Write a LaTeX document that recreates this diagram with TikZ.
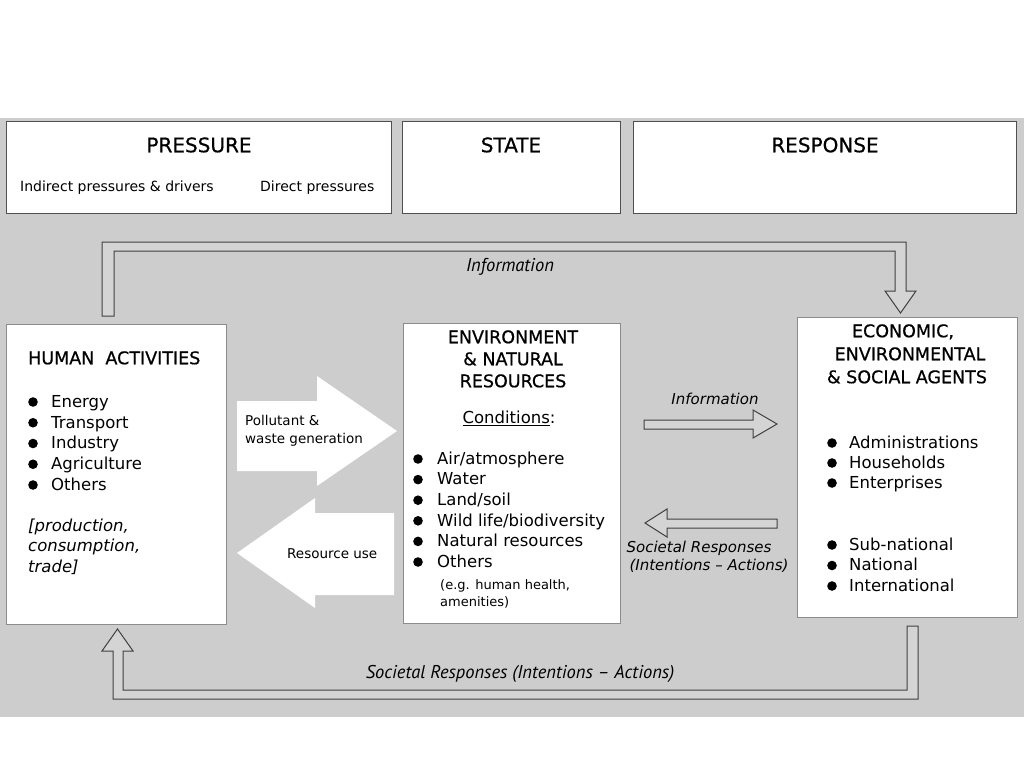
\documentclass[tikz,border=0pt]{standalone}
\usepackage{fontspec}
\setmainfont{DejaVu Sans}[BoldFont=DejaVu Sans, BoldFeatures={FakeBold=0.6}]
\newfontfamily\myr{PT Sans}
\usetikzlibrary{calc}
\definecolor{bggray}{RGB}{205,205,205}
\definecolor{arrgray}{RGB}{212,212,212}
\definecolor{hdredge}{RGB}{80,80,80}
\definecolor{boxedge}{RGB}{140,140,140}
\tikzset{
  hdrbox/.style={draw=hdredge, line width=1.2pt, fill=white, anchor=north west, inner sep=0pt},
  mainbox/.style={draw=boxedge, line width=1pt, fill=white, anchor=north west, inner sep=0pt},
  lbl/.style={inner sep=0pt, text height=1.05em, text depth=0pt},
  hdrtitle/.style={lbl, font=\fontsize{20}{24}\selectfont\bfseries},
  hdrsub/.style={lbl, anchor=west, font=\fontsize{14}{16}\selectfont},
  boxtitle/.style={lbl, font=\fontsize{17.5}{22}\selectfont\bfseries},
  bodytxt/.style={lbl, anchor=west, font=\fontsize{16.5}{20}\selectfont},
  bodyit/.style={lbl, anchor=west, font=\fontsize{16.5}{20}\selectfont\itshape},
  smalltxt/.style={lbl, anchor=west, font=\fontsize{13}{16}\selectfont},
  arrtxt/.style={lbl, anchor=west, font=\fontsize{13.5}{16}\selectfont},
  midit/.style={lbl, font=\fontsize{15}{18}\selectfont\itshape},
  loopit/.style={lbl, font=\myr\fontsize{18.5}{21}\selectfont\itshape},
  loopar/.style={draw=black!75, fill=arrgray, line width=1pt, line join=miter},
  bigar/.style={fill=white},
  bulletdot/.style={fill=black}
}
\begin{document}
\begin{tikzpicture}[x=1pt,y=-1pt]
\useasboundingbox (0,0) rectangle (1024,768);
\fill[white] (0,0) rectangle (1024,768);
\fill[bggray] (0,118) rectangle (1024,717);

% header boxes
\node[hdrbox, minimum width=385pt, minimum height=92pt] (press) at (6,121) {};
\node[hdrbox, minimum width=218pt, minimum height=92pt] (state) at (402,121) {};
\node[hdrbox, minimum width=383pt, minimum height=92pt] (resp) at (633,121) {};
\node[hdrtitle] (presst) at (199,147) {PRESSURE};
\node[hdrsub] (indir) at (20,186) {Indirect pressures \& drivers};
\node[hdrsub] (direct) at (260,186) {Direct pressures};
\node[hdrtitle] (statet) at (511,147) {STATE};
\node[hdrtitle] (respt) at (825,147) {RESPONSE};

% main boxes
\node[mainbox, minimum width=220pt, minimum height=300pt] (human) at (6,324) {};
\node[mainbox, minimum width=217pt, minimum height=300pt] (env) at (403,323) {};
\node[mainbox, minimum width=220pt, minimum height=300pt] (agents) at (797,317) {};

% top loop arrow (Information)
\coordinate (tl) at (102,316);
\coordinate (tip1) at (900.5,313);
\draw[loopar] (tl) -- (102,242) -- (906,242) -- (906,291) -- (916,291) -- (tip1)
  -- (885,291) -- (895,291) -- (895,251) -- (114,251) -- (114,316) -- cycle;
\node[loopit] (info1) at (510,266) {Information};

% bottom loop arrow (Societal responses)
\coordinate (br) at (907,626);
\coordinate (tip2) at (117.5,629);
\draw[loopar] (br) -- (918,626) -- (918,699) -- (113,699) -- (113,651) -- (102,651)
  -- (tip2) -- (133,651) -- (123,651) -- (123,690) -- (907,690) -- cycle;
\node[loopit] (soc2) at (520,673) {Societal Responses (Intentions – Actions)};

% pollutant arrow
\coordinate (tip3) at (397,431);
\fill[bigar] (237,401) -- (317,401) -- (317,376) -- (tip3) -- (317,486) -- (317,471) -- (237,471) -- cycle;
\node[arrtxt] (pol1) at (245,420) {Pollutant \&};
\node[arrtxt] (pol2) at (245,438) {waste generation};

% resource use arrow
\coordinate (tip4) at (237,553);
\fill[bigar] (tip4) -- (315,498) -- (315,513) -- (394,513) -- (394,595) -- (315,595) -- (315,608) -- cycle;
\node[arrtxt] (resu) at (287,553) {Resource use};

% middle information arrow
\coordinate (tip5) at (777,424);
\draw[loopar] (644,420) -- (753,420) -- (753,410) -- (tip5) -- (753,438) -- (753,429) -- (644,429) -- cycle;
\node[midit] (info2) at (715,399) {Information};

% middle societal arrow
\coordinate (tip6) at (645,523);
\draw[loopar] (tip6) -- (667,509) -- (667,519) -- (777,519) -- (777,528) -- (667,528) -- (667,537) -- cycle;
\node[midit] (soc1a) at (699,547) {Societal Responses};
\node[midit] (soc1b) at (709,565) {(Intentions – Actions)};

% human activities content
\node[boxtitle, anchor=west] (hat) at (28,359) {HUMAN\ \ ACTIVITIES};
\foreach \t [count=\i] in {Energy,Transport,Industry,Agriculture,Others}{
  \fill[bulletdot] (33,{402+20.75*(\i-1)}) circle (4.8);
  \node[bodytxt] (ha\i) at (51,{402+20.75*(\i-1)}) {\t};
}
\node[bodyit] (hp1) at (28,526) {[production,};
\node[bodyit] (hp2) at (28,546.5) {consumption,};
\node[bodyit] (hp3) at (28,567) {trade]};

% environment content
\node[boxtitle] (et1) at (513,338) {ENVIRONMENT};
\node[boxtitle] (et2) at (513,360) {\& NATURAL};
\node[boxtitle] (et3) at (513,382) {RESOURCES};
\node[lbl, font=\fontsize{16.5}{20}\selectfont] (cond) at (509,418) {\underline{Conditions}:};
\foreach \t [count=\i] in {Air/atmosphere,Water,Land/soil,Wild life/biodiversity,Natural resources,Others}{
  \fill[bulletdot] (418,{459+20.6*(\i-1)}) circle (4.8);
  \node[bodytxt] (en\i) at (437,{459+20.6*(\i-1)}) {\t};
}
\node[smalltxt] (eg1) at (440,584) {(e.g. human health,};
\node[smalltxt] (eg2) at (440,601) {amenities)};

% agents content
\node[boxtitle] (at1) at (903,332) {ECONOMIC,};
\node[boxtitle] (at2) at (910,355) {ENVIRONMENTAL};
\node[boxtitle] (at3) at (907,378) {\& SOCIAL AGENTS};
\foreach \t [count=\i] in {Administrations,Households,Enterprises}{
  \fill[bulletdot] (832,{443+20*(\i-1)}) circle (4.8);
  \node[bodytxt] (ag\i) at (849,{443+20*(\i-1)}) {\t};
}
\foreach \t [count=\i] in {Sub-national,National,International}{
  \fill[bulletdot] (832,{545+20.5*(\i-1)}) circle (4.8);
  \node[bodytxt] (al\i) at (849,{545+20.5*(\i-1)}) {\t};
}
\end{tikzpicture}
\end{document}
